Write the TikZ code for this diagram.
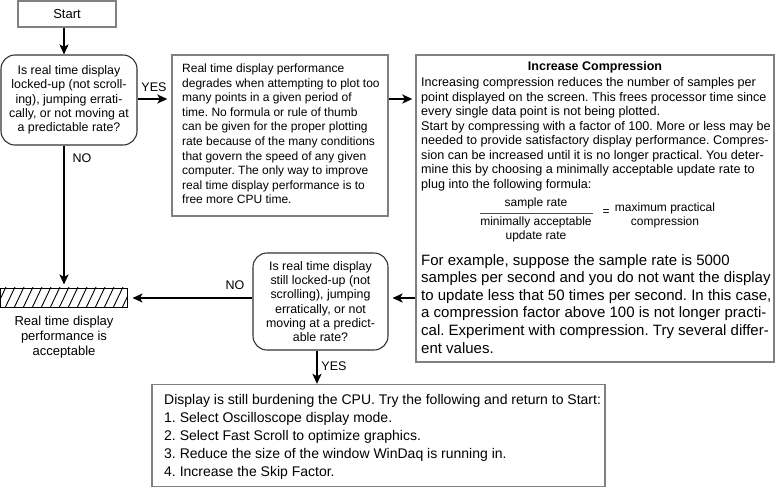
\documentclass[tikz,border=0pt]{standalone}
\usepackage{fontspec}
\setmainfont{Liberation Sans}
\usetikzlibrary{arrows.meta}
\frenchspacing
\begin{document}
\begin{tikzpicture}[x=1pt,y=-1pt,
  box/.style={draw=black!50, line width=1.3pt, inner sep=0pt},
  decbox/.style={draw=black!80, line width=1.1pt, rounded corners=14pt, inner sep=0pt, align=center, font=\fontsize{12.4}{14.3}\selectfont},
  conn/.style={line width=2pt, -{Stealth[length=10pt,width=9pt,inset=2.5pt]}},
  lbl/.style={font=\fontsize{12.5}{14}\selectfont, inner sep=0pt},
  txt/.style={inner sep=0pt, anchor=north west, align=left},
  ftxt/.style={inner sep=0pt, align=center, font=\fontsize{12}{14.2}\selectfont}]
\useasboundingbox (0,0) rectangle (776,488);

% nodes
\node[box, minimum width=98pt, minimum height=26pt, font=\fontsize{13}{15}\selectfont] (start) at (67,14) {Start};
\node[decbox, minimum width=136pt, minimum height=90pt] (dec1) at (69,100)
  {Is real time display\\locked-up (not scroll-\\ing), jumping errati-\\cally, or not moving at\\a predictable rate?};
\node[box, minimum width=216pt, minimum height=161pt] (mid) at (280,135.5) {};
\node[txt, font=\fontsize{12}{14.6}\selectfont] (midtxt) at (182,63.5)
  {Real time display performance\\degrades when attempting to plot too\\many points in a given period of\\time. No formula or rule of thumb\\can be given for the proper plotting\\rate because of the many conditions\\that govern the speed of any given\\computer. The only way to improve\\real time display performance is to\\free more CPU time.};

\node[box, minimum width=358pt, minimum height=307pt] (rbox) at (595,208.5) {};
\node[inner sep=0pt, font=\bfseries\fontsize{12.5}{14}\selectfont] (rtitle) at (595,67) {Increase Compression};
\node[txt, font=\fontsize{12.6}{14.5}\selectfont] (rtxt1) at (421,77.5)
  {Increasing compression reduces the number of samples per\\point displayed on the screen. This frees processor time since\\every single data point is not being plotted.\\Start by compressing with a factor of 100. More or less may be\\needed to provide satisfactory display performance. Compres-\\sion can be increased until it is no longer practical. You deter-\\mine this by choosing a minimally acceptable update rate to\\plug into the following formula:};
\node[ftxt] (num) at (536,203.5) {sample rate};
\node[ftxt] (den) at (536,229.5) {minimally acceptable\\update rate};
\coordinate (fl) at (480,213);
\coordinate (fr) at (593,213);
\draw[line width=1pt, black!70] (fl) -- (fr);
\node[ftxt] (eq) at (606,213) {=};
\node[ftxt] (res) at (665,215.5) {maximum practical\\compression};
\node[txt, font=\fontsize{15}{17.6}\selectfont] (rtxt2) at (421,254)
  {For example, suppose the sample rate is 5000\\samples per second and you do not want the display\\to update less that 50 times per second. In this case,\\a compression factor above 100 is not longer practi-\\cal. Experiment with compression. Try several differ-\\ent values.};

\node[decbox, minimum width=135pt, minimum height=97pt] (dec2) at (320.5,301.5)
  {Is real time display\\still locked-up (not\\scrolling), jumping\\erratically, or not\\moving at a predict-\\able rate?};

\node[draw=black, line width=1pt, minimum width=127pt, minimum height=19pt, inner sep=0pt] (hatch) at (63.5,297.5) {};
\begin{scope}
  \clip (hatch.south west) rectangle (hatch.north east);
  \foreach \i in {0,...,15} {
    \draw[line width=0.9pt] ({-4+9*\i},308) -- ({6+9*\i},287);
  }
\end{scope}
\node[inner sep=0pt, align=center, font=\fontsize{13}{14.8}\selectfont] (acc) at (64,337)
  {Real time display\\performance is\\acceptable};

\node[box, minimum width=453pt, minimum height=102pt] (bbox) at (378.5,435.5) {};
\node[txt, font=\fontsize{14}{17.8}\selectfont] (btxt) at (164,394.5)
  {Display is still burdening the CPU. Try the following and return to Start:\\1. Select Oscilloscope display mode.\\2. Select Fast Scroll to optimize graphics.\\3. Reduce the size of the window WinDaq is running in.\\4. Increase the Skip Factor.};

% connector coordinates
\coordinate (c1) at (64,0);
\coordinate (c2) at (317,0);
\coordinate (cy1) at (0,99);
\coordinate (cy2) at (0,298);

\draw[conn] (start.south -| c1) -- (dec1.north -| c1);
\draw[conn, shorten >=4pt] (dec1.east |- cy1) -- (mid.west |- cy1);
\draw[conn, shorten >=3pt] (mid.east |- cy1) -- (rbox.west |- cy1);
\draw[conn, shorten >=4pt] (rbox.west |- cy2) -- (dec2.east |- cy2);
\draw[conn, shorten >=5pt] (dec2.west |- cy2) -- (hatch.east |- cy2);
\draw[conn, shorten >=3pt] (dec1.south -| c1) -- (hatch.north -| c1);
\draw[conn] (dec2.south -| c2) -- (bbox.north -| c2);

\node[lbl] (yes1) at (154,87) {YES};
\node[lbl] (no1) at (82,158) {NO};
\node[lbl] (no2) at (235,285) {NO};
\node[lbl] (yes2) at (334,366) {YES};
\end{tikzpicture}
\end{document}
